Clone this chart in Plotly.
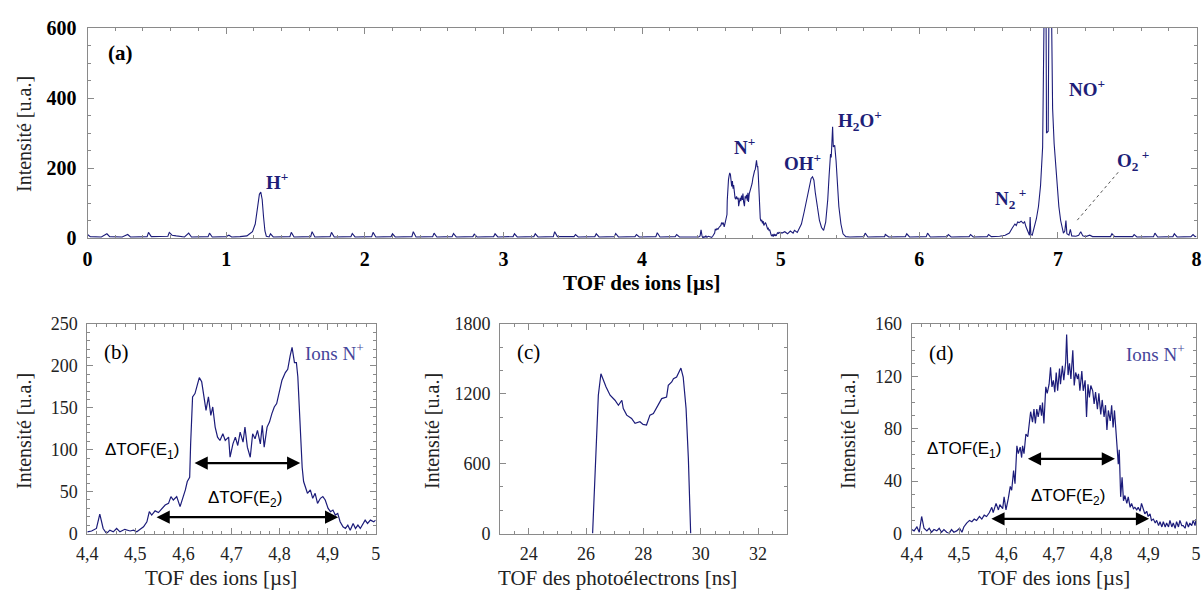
import plotly.graph_objects as go

# ---------------- DATA ----------------
# Panel (a): full ion TOF spectrum (µs, counts)
a_left_x = [0.00, 0.02, 0.10, 0.14, 0.16, 0.25, 0.29, 0.31, 0.43, 0.44, 0.46, 0.58, 0.59, 0.61, 0.64, 0.70,
            0.73, 0.75, 0.87, 0.88, 0.90, 1.00, 1.02, 1.04, 1.10, 1.15, 1.17, 1.19, 1.21, 1.225, 1.24, 1.25,
            1.26, 1.27, 1.28, 1.29, 1.31, 1.32, 1.34, 1.46, 1.47, 1.49, 1.61, 1.62, 1.64, 1.75, 1.76, 1.78,
            1.90, 1.91, 1.93, 2.05, 2.06, 2.08, 2.19, 2.20, 2.22, 2.34, 2.35, 2.37, 2.49, 2.50, 2.52, 2.63,
            2.64, 2.66, 2.78, 2.79, 2.81, 2.93, 2.94, 2.96, 3.07, 3.08, 3.10, 3.22, 3.23, 3.25, 3.36, 3.37,
            3.39, 3.51, 3.52, 3.54, 3.66, 3.67, 3.69, 3.80, 3.81, 3.83, 3.95, 3.96, 3.98, 4.10, 4.11, 4.13,
            4.24, 4.25, 4.27, 4.38]
a_left_y = [10, 4, 3, 12, 4, 3, 10, 3, 4, 16, 4, 5, 16, 8, 6, 3,
            14, 3, 4, 14, 3, 4, 8, 3, 4, 6, 12, 18, 40, 90, 125, 131,
            110, 60, 20, 5, 3, 12, 3, 4, 16, 3, 4, 18, 3, 4, 16, 3,
            4, 13, 3, 4, 16, 3, 4, 12, 3, 4, 18, 3, 4, 14, 3, 4,
            13, 3, 4, 11, 3, 4, 12, 3, 4, 12, 3, 4, 12, 3, 4, 18,
            4, 4, 10, 3, 4, 12, 3, 4, 13, 3, 4, 10, 3, 4, 15, 3,
            4, 10, 3, 3]

# N+ ions (panels a and b)
nplus_x = [4.400, 4.409, 4.419, 4.426, 4.433, 4.440, 4.447, 4.454, 4.461, 4.468, 4.478, 4.489, 4.496, 4.503,
           4.510, 4.517, 4.524, 4.529, 4.534, 4.541, 4.548, 4.555, 4.562, 4.569, 4.574, 4.579, 4.586, 4.593,
           4.599, 4.604, 4.608, 4.613, 4.615, 4.619, 4.624, 4.628, 4.633, 4.638, 4.643, 4.647, 4.652, 4.657,
           4.661, 4.666, 4.671, 4.676, 4.682, 4.687, 4.694, 4.697, 4.703, 4.708, 4.713, 4.718, 4.724, 4.728,
           4.733, 4.739, 4.744, 4.749, 4.754, 4.760, 4.764, 4.768, 4.774, 4.779, 4.784, 4.789, 4.794, 4.800,
           4.805, 4.812, 4.817, 4.822, 4.826, 4.831, 4.835, 4.838, 4.843, 4.847, 4.850, 4.853, 4.858, 4.864,
           4.869, 4.874, 4.879, 4.885, 4.890, 4.895, 4.901, 4.906, 4.911, 4.916, 4.921, 4.926, 4.932, 4.937,
           4.942, 4.947, 4.953, 4.958, 4.963, 4.968, 4.974, 4.978, 4.983, 4.989, 4.996, 5.000]
nplus_y = [2, 3, 6, 23, 6, 0, 4, 2, 6, 2, 5, 3, 4, 2,
           5, 8, 14, 26, 22, 27, 25, 30, 34, 36, 44, 40, 44, 32,
           42, 52, 62, 67, 107, 163, 167, 177, 186, 181, 159, 147, 163, 141,
           151, 127, 115, 111, 119, 111, 115, 91, 107, 115, 105, 121, 109, 127,
           103, 91, 119, 113, 123, 107, 129, 103, 127, 133, 143, 151, 155, 171,
           183, 192, 196, 212, 222, 204, 204, 187, 127, 79, 62, 56, 48, 52,
           42, 48, 36, 42, 44, 40, 30, 26, 28, 22, 24, 14, 8, 6,
           10, 4, 12, 6, 10, 6, 12, 16, 12, 16, 14, 16]

a_right_x = [5.01, 5.03, 5.05, 5.07, 5.09, 5.10, 5.12, 5.13, 5.15, 5.17, 5.19, 5.205, 5.22, 5.23, 5.24,
             5.25, 5.265, 5.28, 5.295, 5.31, 5.325, 5.34, 5.35, 5.36, 5.365, 5.375, 5.38, 5.39, 5.40,
             5.41, 5.42, 5.435, 5.45, 5.47, 5.50, 5.60, 5.61, 5.63, 5.75, 5.755, 5.78, 5.90, 5.91, 5.93,
             6.05, 6.06, 6.08, 6.20, 6.21, 6.23, 6.36, 6.37, 6.39, 6.49, 6.50, 6.52, 6.58, 6.62, 6.65,
             6.67, 6.69, 6.70, 6.71, 6.72, 6.735, 6.75, 6.76, 6.77, 6.785, 6.795, 6.80, 6.805, 6.815,
             6.83, 6.845, 6.86, 6.875, 6.89, 6.90, 6.915, 6.918, 6.93, 6.935, 6.955, 6.962, 6.973,
             6.99, 7.007, 7.02, 7.03, 7.04, 7.05, 7.058, 7.065, 7.08, 7.09, 7.10, 7.13, 7.15, 7.165,
             7.18, 7.20, 7.23, 7.25, 7.38, 7.39, 7.41, 7.54, 7.55, 7.57, 7.69, 7.70, 7.72, 7.83, 7.84,
             7.86, 7.96, 7.975, 7.99, 8.00]
a_right_y = [14, 18, 12, 20, 14, 22, 16, 24, 40, 75, 115, 145, 170, 175, 165,
             130, 85, 50, 30, 22, 45, 110, 180, 240, 230, 318, 260, 265, 220,
             150, 90, 40, 12, 4, 3, 4, 14, 3, 4, 10, 3, 4, 12, 3,
             4, 14, 3, 4, 10, 3, 4, 10, 3, 4, 10, 4, 5, 8, 14,
             28, 40, 36, 46, 44, 48, 42, 46, 32, 20, 8, 60, 10, 8,
             30, 55, 90, 150, 260, 620, 620, 300, 305, 620, 620, 370, 270,
             175, 90, 50, 30, 14, 20, 50, 12, 8, 25, 6, 5, 8, 18,
             6, 4, 8, 4, 4, 12, 4, 4, 10, 3, 4, 14, 3, 4, 12,
             3, 4, 10, 4, 5]

# Panel (c): photoelectron TOF (ns, counts)
c_x = [26.23, 26.31, 26.37, 26.43, 26.52, 26.60, 26.70, 26.84, 27.01, 27.13, 27.25, 27.30, 27.42,
       27.59, 27.71, 27.88, 27.99, 28.11, 28.23, 28.35, 28.52, 28.64, 28.81, 28.87, 28.99, 29.05, 29.16,
       29.31, 29.39, 29.49, 29.57, 29.65]
c_y = [0, 533, 874, 1188, 1373, 1316, 1259, 1188, 1145, 1102, 1145, 1074, 1017,
       988, 946, 960, 937, 932, 1017, 1031, 1102, 1159, 1173, 1273, 1302, 1330, 1344,
       1421, 1344, 1074, 646, 0]

# Panel (d): N+ ions, second condition (µs, counts)
d_x = [4.400, 4.405, 4.411, 4.416, 4.421, 4.426, 4.432, 4.437, 4.442, 4.447, 4.453, 4.458, 4.463, 4.468,
       4.474, 4.479, 4.484, 4.489, 4.495, 4.501, 4.506, 4.510, 4.516, 4.522, 4.527, 4.532, 4.537, 4.543,
       4.548, 4.553, 4.558, 4.564, 4.569, 4.572, 4.578, 4.583, 4.586, 4.592, 4.595, 4.599, 4.604, 4.608,
       4.611, 4.615, 4.618, 4.622, 4.625, 4.629, 4.632, 4.634, 4.637, 4.641, 4.645, 4.648, 4.651, 4.655,
       4.658, 4.661, 4.664, 4.667, 4.671, 4.674, 4.676, 4.679, 4.683, 4.686, 4.690, 4.693, 4.696, 4.699,
       4.702, 4.705, 4.708, 4.712, 4.714, 4.718, 4.721, 4.725, 4.727, 4.730, 4.733, 4.736, 4.740, 4.743,
       4.746, 4.750, 4.752, 4.755, 4.759, 4.762, 4.766, 4.769, 4.772, 4.775, 4.778, 4.782, 4.785, 4.788,
       4.792, 4.795, 4.799, 4.802, 4.806, 4.809, 4.812, 4.815, 4.819, 4.822, 4.825, 4.828, 4.831, 4.833,
       4.836, 4.838, 4.841, 4.844, 4.847, 4.850, 4.854, 4.857, 4.861, 4.864, 4.868, 4.871, 4.875, 4.878,
       4.882, 4.885, 4.889, 4.892, 4.896, 4.899, 4.903, 4.906, 4.910, 4.914, 4.917, 4.921, 4.924, 4.928,
       4.931, 4.935, 4.938, 4.942, 4.945, 4.949, 4.952, 4.956, 4.959, 4.963, 4.966, 4.970, 4.973, 4.977,
       4.980, 4.984, 4.987, 4.991, 4.994, 4.998, 5.000]
d_y = [3, 2, 5, 1, 13, 4, 2, 4, 1, 3, 2, 4, 1, 3,
       1, 0, 3, 1, 2, 4, 1, 5, 8, 10, 9, 11, 10, 13,
       11, 14, 13, 16, 20, 16, 23, 18, 22, 19, 28, 18, 27, 36,
       33, 48, 38, 67, 61, 66, 58, 67, 61, 76, 74, 85, 93, 85,
       95, 84, 95, 89, 98, 90, 100, 84, 112, 107, 114, 127, 112, 117,
       108, 123, 109, 126, 114, 128, 117, 131, 152, 121, 130, 118, 140, 113,
       123, 118, 122, 109, 124, 109, 117, 89, 114, 104, 113, 109, 99, 108,
       95, 107, 91, 102, 89, 98, 79, 94, 86, 98, 81, 94, 76, 66,
       53, 64, 28, 43, 25, 29, 23, 28, 20, 23, 19, 20, 18, 20,
       17, 23, 18, 15, 17, 13, 15, 10, 11, 8, 10, 6, 9, 5,
       9, 5, 8, 5, 10, 5, 8, 4, 9, 5, 10, 6, 6, 4,
       9, 5, 8, 6, 10, 6, 11]

# Tick labels
a_xticks = [0, 1, 2, 3, 4, 5, 6, 7, 8]
a_yticks = [0, 200, 400, 600]
bd_xticks = [4.4, 4.5, 4.6, 4.7, 4.8, 4.9, 5.0]
bd_xlabels = ["4,4", "4,5", "4,6", "4,7", "4,8", "4,9", "5"]
b_yticks = [0, 50, 100, 150, 200, 250]
c_xticks = [24, 26, 28, 30, 32]
c_yticks = [0, 600, 1200, 1800]
d_yticks = [0, 40, 80, 120, 160]

# ---------------- STYLE ----------------
W, H = 1203, 590
SERIF = "Liberation Serif, Times New Roman, serif"
SANS = "Liberation Sans, Arial, sans-serif"
LINE = "#1c1c7a"
LABEL = "#1e1e78"
IONS = "#45459a"
FRAME = "#8a8a8a"

def px(x):
    return x / W

def py(y):
    return 1 - y / H

def axis_common(**kw):
    d = dict(showline=True, linecolor=FRAME, linewidth=1, mirror="ticks", ticks="inside",
             ticklen=6, tickcolor=FRAME, tickwidth=1, showgrid=False, zeroline=False,
             fixedrange=True, automargin=False, ticklabeloverflow="allow")
    d.update(kw)
    return d

fig = go.Figure()
a_x = a_left_x + nplus_x + a_right_x
a_y = a_left_y + nplus_y + a_right_y
fig.add_trace(go.Scatter(x=a_x, y=a_y, mode="lines", line=dict(color=LINE, width=1.1), xaxis="x", yaxis="y",
                         showlegend=False, hoverinfo="skip"))
fig.add_trace(go.Scatter(x=nplus_x, y=nplus_y, mode="lines", line=dict(color=LINE, width=1.2), xaxis="x2",
                         yaxis="y2", showlegend=False, hoverinfo="skip"))
fig.add_trace(go.Scatter(x=c_x, y=c_y, mode="lines", line=dict(color=LINE, width=1.2), xaxis="x3",
                         yaxis="y3", showlegend=False, hoverinfo="skip"))
fig.add_trace(go.Scatter(x=d_x, y=d_y, mode="lines", line=dict(color=LINE, width=1.2), xaxis="x4",
                         yaxis="y4", showlegend=False, hoverinfo="skip"))

tick_a = dict(family=SERIF, size=20, color="black", weight="bold")
tick_s = dict(family=SERIF, size=18, color="#222")

top_b, bot_b = 324, 533.5
layout = dict(
    width=W, height=H, autosize=False,
    margin=dict(l=0, r=0, t=0, b=0, pad=0, autoexpand=False),
    paper_bgcolor="white", plot_bgcolor="white",
    xaxis=axis_common(domain=[px(87.5), px(1196.5)], range=[0, 8], anchor="y", tickvals=a_xticks,
                      tickfont=tick_a, ticklabelstandoff=3,
                      minor=dict(ticks="inside", dtick=0.2, ticklen=3, tickcolor=FRAME)),
    yaxis=axis_common(domain=[py(238), py(28)], range=[0, 600], anchor="x", tickvals=a_yticks,
                      tickfont=tick_a, ticklabelstandoff=6,
                      minor=dict(ticks="inside", dtick=50, ticklen=3, tickcolor=FRAME)),
    xaxis2=axis_common(domain=[px(87.3), px(375.7)], range=[4.4, 5.0], anchor="y2", tickvals=bd_xticks,
                       ticktext=bd_xlabels, tickfont=tick_s, ticklabelstandoff=4,
                       minor=dict(ticks="inside", dtick=0.02, ticklen=3, tickcolor=FRAME)),
    yaxis2=axis_common(domain=[py(bot_b), py(top_b)], range=[0, 250], anchor="x2", tickvals=b_yticks,
                       tickfont=tick_s, ticklabelstandoff=5,
                       minor=dict(ticks="inside", dtick=10, ticklen=3, tickcolor=FRAME)),
    xaxis3=axis_common(domain=[px(500), px(786.7)], range=[23, 33], anchor="y3", tickvals=c_xticks,
                       tickfont=tick_s, ticklabelstandoff=4,
                       minor=dict(ticks="inside", dtick=0.5, ticklen=3, tickcolor=FRAME)),
    yaxis3=axis_common(domain=[py(bot_b), py(top_b)], range=[0, 1800], anchor="x3", tickvals=c_yticks,
                       tickfont=tick_s, ticklabelstandoff=5,
                       minor=dict(ticks="inside", dtick=200, ticklen=3, tickcolor=FRAME)),
    xaxis4=axis_common(domain=[px(911.7), px(1196)], range=[4.4, 5.0], anchor="y4", tickvals=bd_xticks,
                       ticktext=bd_xlabels, tickfont=tick_s, ticklabelstandoff=4,
                       minor=dict(ticks="inside", dtick=0.02, ticklen=3, tickcolor=FRAME)),
    yaxis4=axis_common(domain=[py(bot_b), py(top_b)], range=[0, 160], anchor="x4", tickvals=d_yticks,
                       tickfont=tick_s, ticklabelstandoff=5,
                       minor=dict(ticks="inside", dtick=10, ticklen=3, tickcolor=FRAME)),
)
fig.update_layout(**layout)

ann = []

def txt(x, y, text, xref, yref, font, **kw):
    d = dict(x=x, y=y, text=text, xref=xref, yref=yref, showarrow=False, font=font,
             xanchor="center", yanchor="middle")
    d.update(kw)
    ann.append(d)

# axis titles
t_bold = dict(family=SERIF, size=21, color="black", weight="bold")
t_reg = dict(family=SERIF, size=20, color="#222")
t_xreg = dict(family=SERIF, size=21, color="#222")
txt(px(24), py(134), "Intensité [u.a.]", "paper", "paper", t_reg, textangle=-90)
txt(px(641), py(283), "TOF des ions [µs]", "paper", "paper", t_bold)
txt(px(24), py(431), "Intensité [u.a.]", "paper", "paper", t_reg, textangle=-90)
txt(px(221), py(578), "TOF des ions [µs]", "paper", "paper", t_xreg)
txt(px(432), py(431), "Intensité [u.a.]", "paper", "paper", t_reg, textangle=-90)
txt(px(617), py(578), "TOF des photoélectrons [ns]", "paper", "paper", t_xreg)
txt(px(848), py(431), "Intensité [u.a.]", "paper", "paper", t_reg, textangle=-90)
txt(px(1054), py(578), "TOF des ions [µs]", "paper", "paper", t_xreg)

# panel (a) labels
ion_font = dict(family=SERIF, size=19, color=LABEL, weight="bold")
txt(0.24, 528, "(a)", "x", "y", dict(family=SERIF, size=21, color="black", weight="bold"))
txt(1.37, 162, "H<sup>+</sup>", "x", "y", ion_font)
txt(4.74, 262, "N<sup>+</sup>", "x", "y", ion_font)
txt(5.16, 216, "OH<sup>+</sup>", "x", "y", ion_font)
txt(5.57, 335, "H<sub>2</sub>O<sup>+</sup>", "x", "y", ion_font)
txt(7.21, 428, "NO<sup>+</sup>", "x", "y", ion_font)
txt(6.66, 112, "N<sub>2</sub><sup> +</sup>", "x", "y", ion_font)
txt(7.54, 222, "O<sub>2</sub><sup> +</sup>", "x", "y", ion_font)

# panels b, c, d labels
pl_font = dict(family=SERIF, size=21, color="black")
ions_font = dict(family=SERIF, size=19, color=IONS)
dt_font = dict(family=SANS, size=17, color="black")
txt(4.461, 216, "(b)", "x2", "y2", pl_font)
txt(4.915, 216, "Ions N<sup>+</sup>", "x2", "y2", ions_font)
txt(4.513, 99, "ΔTOF(E<sub>1</sub>)", "x2", "y2", dt_font)
txt(4.728, 41, "ΔTOF(E<sub>2</sub>)", "x2", "y2", dt_font)
txt(23.99, 1558, "(c)", "x3", "y3", pl_font)
txt(4.462, 138, "(d)", "x4", "y4", pl_font)
txt(4.915, 138, "Ions N<sup>+</sup>", "x4", "y4", ions_font)
txt(4.511, 64, "ΔTOF(E<sub>1</sub>)", "x4", "y4", dt_font)
txt(4.729, 28, "ΔTOF(E<sub>2</sub>)", "x4", "y4", dt_font)

def arrow(x0, x1, y, xr, yr):
    ann.append(dict(x=x1, y=y, ax=x0, ay=y, xref=xr, yref=yr, axref=xr, ayref=yr, text="",
                    showarrow=True, arrowhead=2, arrowside="end+start", arrowsize=1.1,
                    arrowwidth=2.4, arrowcolor="black", standoff=0, startstandoff=0))

arrow(4.620, 4.843, 84, "x2", "y2")
arrow(4.541, 4.922, 19.5, "x2", "y2")
arrow(4.642, 4.829, 57, "x4", "y4")
arrow(4.565, 4.901, 11.2, "x4", "y4")

fig.update_layout(annotations=ann)

# dotted leader line to O2+
fig.add_shape(type="line", x0=7.14, y0=51, x1=7.44, y1=190, xref="x", yref="y",
              line=dict(color="#555", width=1, dash="dot"))

# remove the browser's default 8 px page margin so the figure sits at the window corner
fig.write_html("out.html", config={"displayModeBar": False},
               post_script="document.body.style.margin='0px';document.body.style.overflow='hidden';")
